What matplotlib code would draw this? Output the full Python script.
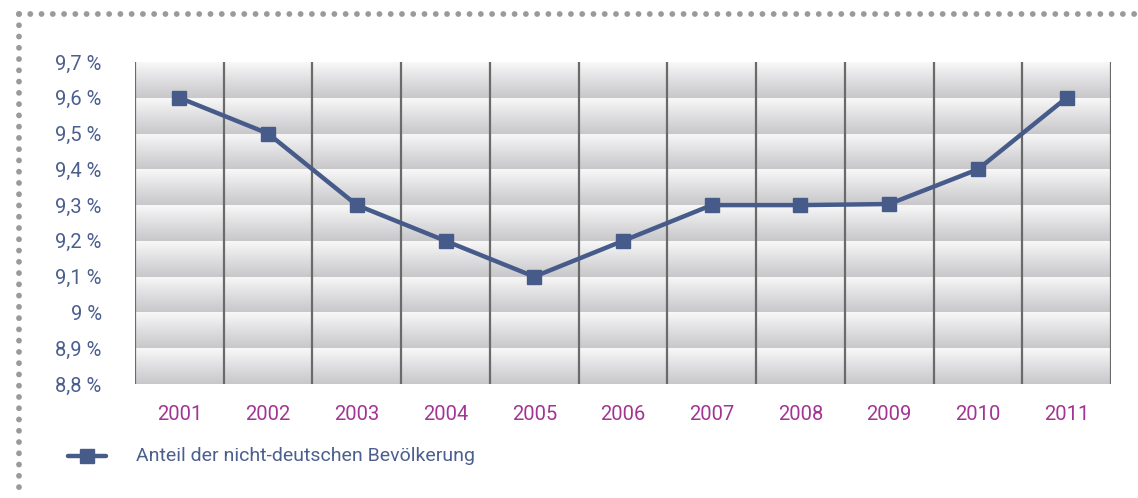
import numpy as np
import matplotlib.pyplot as plt
from matplotlib.lines import Line2D
from matplotlib.colors import LinearSegmentedColormap

# data
years = ["2001", "2002", "2003", "2004", "2005", "2006", "2007", "2008", "2009", "2010", "2011"]
anteil = [9.6, 9.5, 9.3, 9.2, 9.1, 9.2, 9.3, 9.3, 9.303, 9.4, 9.6]
y_ticks = [8.8, 8.9, 9.0, 9.1, 9.2, 9.3, 9.4, 9.5, 9.6, 9.7]
y_labels = ["8,8 %", "8,9 %", "9 %", "9,1 %", "9,2 %", "9,3 %", "9,4 %", "9,5 %", "9,6 %", "9,7 %"]
series_name = "Anteil der nicht-deutschen Bevölkerung"

plt.rcParams["font.family"] = ["Roboto", "DejaVu Sans"]
plt.rcParams["lines.scale_dashes"] = False

LINE_COL = "#475b8a"
TICK_COL = "#4b5f8e"
YEAR_COL = "#a23593"

W, H = 1138, 498
fig = plt.figure(figsize=(W / 100, H / 100), dpi=100)
ax = fig.add_axes([135 / W, (H - 384) / H, (1111 - 135) / W, (384 - 62) / H])

n = len(years)
x = np.arange(n)
ax.set_xlim(-0.5, n - 0.5)
ax.set_ylim(8.8, 9.7)

# gradient bands between gridlines
band_cmap = LinearSegmentedColormap.from_list("band", ["#c8c8cb", "#dfdfe1", "#f8f8f8"])
grad = np.linspace(0, 1, 64).reshape(-1, 1)
for lo in y_ticks[:-1]:
    ax.imshow(grad, cmap=band_cmap, aspect="auto", origin="lower",
              extent=[-0.5, n - 0.5, lo, lo + 0.1], zorder=0)

# vertical category separators
for b in np.arange(-0.5, n, 1.0):
    ax.axvline(b, color="#6a6a6a", lw=1.6, zorder=1)

ax.plot(x, anteil, color=LINE_COL, lw=3.2, marker="s", markersize=10,
        markerfacecolor=LINE_COL, markeredgecolor=LINE_COL, zorder=3)

for s in ax.spines.values():
    s.set_visible(False)
ax.set_xticks(x)
ax.set_xticklabels(years, color=YEAR_COL, fontsize=14.5)
ax.set_yticks(y_ticks)
ax.set_yticklabels(y_labels, color=TICK_COL, fontsize=14.5)
ax.tick_params(axis="x", length=0, pad=15)
ax.tick_params(axis="y", length=0, pad=24)

# legend
ly = 1 - 456 / H
fig.add_artist(Line2D([68 / W, 106 / W], [ly, ly], color=LINE_COL, lw=3.2,
                      solid_capstyle="round", transform=fig.transFigure))
fig.add_artist(Line2D([87 / W], [ly], color=LINE_COL, marker="s", markersize=10,
                      linestyle="none", transform=fig.transFigure))
fig.text(136 / W, ly, series_name, color=TICK_COL, fontsize=14, va="center", ha="left")

# dotted frame
dot_kw = dict(color="#9a9a9a", lw=4.2, linestyle=(0, (0.01, 8.1)), dash_capstyle="round",
              transform=fig.transFigure)
fig.add_artist(Line2D([19 / W, 1.0], [1 - 14 / H, 1 - 14 / H], **dot_kw))
fig.add_artist(Line2D([19 / W, 19 / W], [1 - 14 / H, 0.0], **dot_kw))

fig.savefig("out.png", dpi=100)
